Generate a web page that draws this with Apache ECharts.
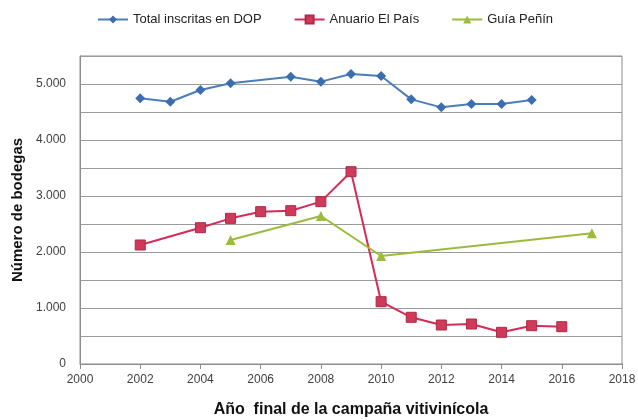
<!DOCTYPE html>
<html>
<head>
<meta charset="utf-8">
<script src="https://cdn.jsdelivr.net/npm/echarts@6/dist/echarts.min.js"></script>
<style>html,body{margin:0;padding:0;background:#fff}#c{width:638px;height:420px}</style>
</head>
<body>
<div id="c"></div>
<script>
const seriesNames = ['Total inscritas en DOP', 'Anuario El País', 'Guía Peñín'];
const totalYears = [2002, 2003, 2004, 2005, 2007, 2008, 2009, 2010, 2011, 2012, 2013, 2014, 2015];
const totalValues = [4745, 4684, 4893, 5012, 5131, 5042, 5179, 5143, 4726, 4583, 4643, 4643, 4714];
const anuarioYears = [2002, 2004, 2005, 2006, 2007, 2008, 2009, 2010, 2011, 2012, 2013, 2014, 2015, 2016];
const anuarioValues = [2125, 2434, 2601, 2720, 2738, 2899, 3434, 1113, 834, 696, 714, 566, 684, 666];
const guiaYears = [2005, 2008, 2010, 2017];
const guiaValues = [2214, 2643, 1929, 2333];
const xTitle = 'Año  final de la campaña vitivinícola';
const yTitle = 'Número de bodegas';

function pairs(xs, ys) { return xs.map((x, i) => [x, ys[i]]); }
function fmt(v) { return String(v).replace(/\B(?=(\d{3})+(?!\d))/g, '.'); }

const font = 'Liberation Sans, Arial, sans-serif';
const chart = echarts.init(document.getElementById('c'), null, {renderer: 'canvas'});
chart.setOption({
  animation: false,
  backgroundColor: '#fff',
  textStyle: {fontFamily: font},
  legend: {
    top: 8, left: 92, itemGap: 32, itemWidth: 30, itemHeight: 10,
    textStyle: {fontFamily: font, fontSize: 13, color: '#222'},
    data: seriesNames
  },
  grid: {left: 80, right: 16, top: 56, bottom: 56, outerBoundsMode: 'none', containLabel: false,
    show: true, borderColor: '#8c8c8c', borderWidth: 1, backgroundColor: 'transparent'},
  xAxis: {
    type: 'value', min: 2000, max: 2018, interval: 2,
    name: xTitle, nameLocation: 'middle', nameGap: 38,
    nameTextStyle: {fontFamily: font, fontSize: 16, fontWeight: 'bold', color: '#111'},
    axisLine: {lineStyle: {color: '#8c8c8c'}},
    axisTick: {show: true, length: 5, inside: false, lineStyle: {color: '#8c8c8c'}},
    axisLabel: {fontFamily: font, fontSize: 12, color: '#404040', margin: 10, formatter: v => String(v)},
    splitLine: {show: false}
  },
  yAxis: {
    type: 'value', min: 0, max: 5500, interval: 500,
    name: yTitle, nameLocation: 'middle', nameGap: 52, nameRotate: 90,
    nameTextStyle: {fontFamily: font, fontSize: 15, fontWeight: 'bold', color: '#111'},
    axisLine: {show: true, lineStyle: {color: '#8c8c8c'}},
    axisTick: {show: false},
    axisLabel: {fontFamily: font, fontSize: 12, color: '#404040', margin: 14,
      formatter: v => (v % 1000 === 0 ? fmt(v) : '')},
    splitLine: {show: true, lineStyle: {color: '#9a9a9a', width: 1}}
  },
  series: [
    {name: seriesNames[0], type: 'line', data: pairs(totalYears, totalValues),
      symbol: 'diamond', symbolSize: 10,
      lineStyle: {color: '#4a7ebb', width: 2}, itemStyle: {color: '#3c6db0'}},
    {name: seriesNames[1], type: 'line', data: pairs(anuarioYears, anuarioValues),
      symbol: 'rect', symbolSize: 10,
      lineStyle: {color: '#d42c56', width: 2}, itemStyle: {color: '#cf3a5a', borderColor: '#b02845', borderWidth: 1}},
    {name: seriesNames[2], type: 'line', data: pairs(guiaYears, guiaValues),
      symbol: 'triangle', symbolSize: 10,
      lineStyle: {color: '#9bbb3c', width: 2}, itemStyle: {color: '#9bbb3c'}}
  ]
});
</script>
</body>
</html>
